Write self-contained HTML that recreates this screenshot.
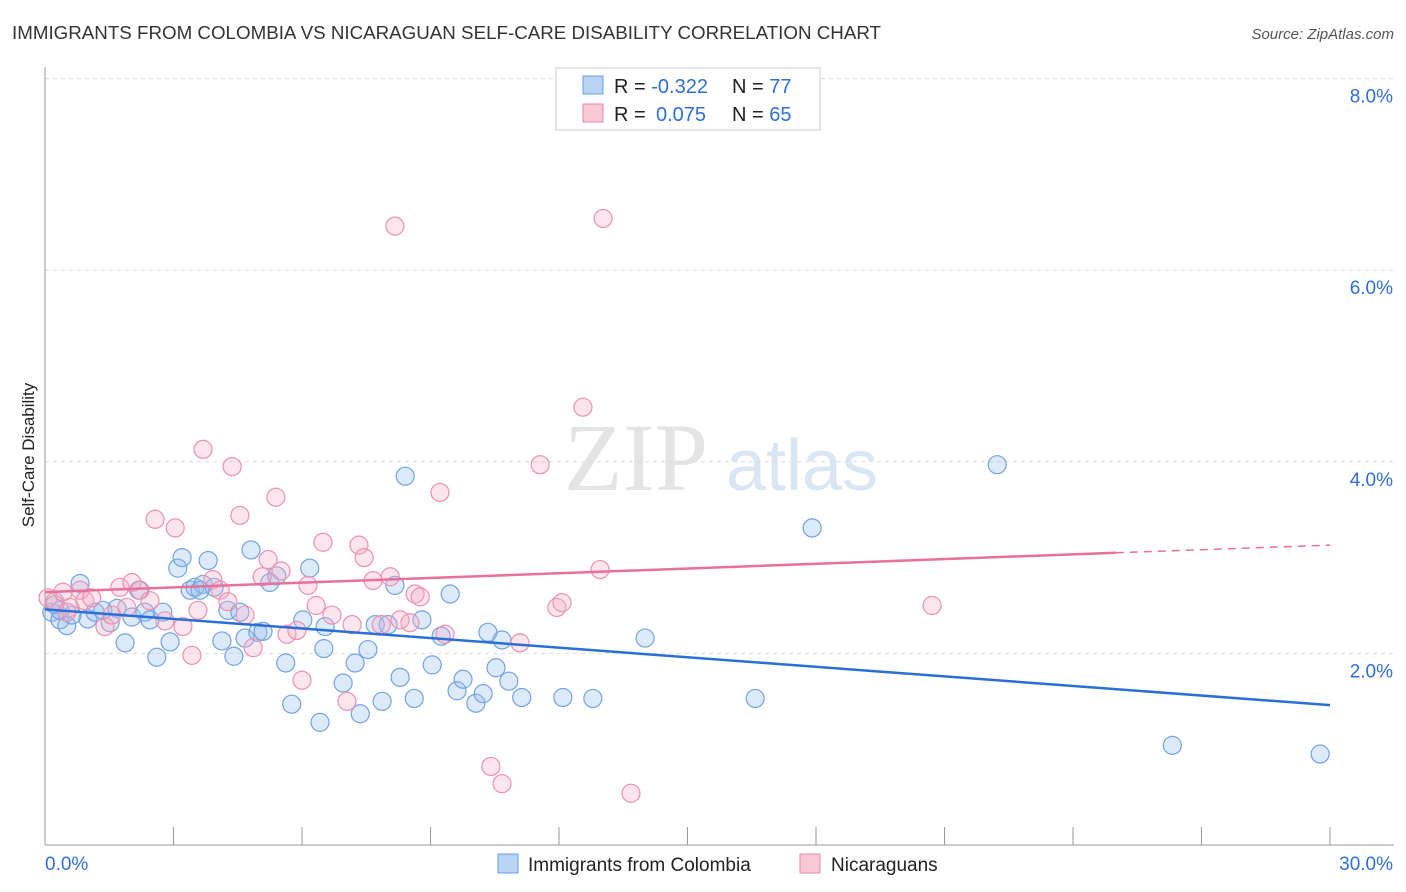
<!DOCTYPE html>
<html><head><meta charset="utf-8"><style>
body{margin:0;background:#fff;font-family:"Liberation Sans",sans-serif}
</style></head><body>
<svg id="c" width="1406" height="892" style="display:block">
<text x="12" y="39" font-size="18" fill="#333" textLength="869" lengthAdjust="spacingAndGlyphs">IMMIGRANTS FROM COLOMBIA VS NICARAGUAN SELF-CARE DISABILITY CORRELATION CHART</text>
<text x="1394" y="39" font-size="15" fill="#555" text-anchor="end" font-style="italic">Source: ZipAtlas.com</text>
<text x="636" y="490" font-size="96" fill="#e4e4e4" font-family="Liberation Serif,serif" text-anchor="middle">ZIP</text>
<text x="802" y="490" font-size="72" fill="#dbe6f5" text-anchor="middle">atlas</text>
<text transform="translate(34,455) rotate(-90)" font-size="17" fill="#222" text-anchor="middle">Self-Care Disability</text>
<g id="grid"></g><g id="pts"></g><g id="lines"></g>
<g>
<rect x="556" y="68" width="264" height="62" fill="#fff" stroke="#ccc"/>
<rect x="583" y="76" width="20" height="18" fill="#b9d3f5" stroke="#6a9ee0"/>
<rect x="583" y="104" width="20" height="18" fill="#f8c7d6" stroke="#e68aa6"/>
<text x="614" y="93" font-size="20" fill="#222">R = <tspan fill="#2f6fd6">-0.322</tspan><tspan x="732">N = </tspan><tspan fill="#2f6fd6">77</tspan></text>
<text x="614" y="121" font-size="20" fill="#222">R = <tspan fill="#2f6fd6" x="656">0.075</tspan><tspan x="732">N = </tspan><tspan fill="#2f6fd6">65</tspan></text>
</g>
<g>
<rect x="498" y="854" width="20" height="19" fill="#b9d3f5" stroke="#6a9ee0"/>
<text x="528" y="871" font-size="19" fill="#222">Immigrants from Colombia</text>
<rect x="800" y="854" width="20" height="19" fill="#f8c7d6" stroke="#e68aa6"/>
<text x="831" y="871" font-size="19" fill="#222">Nicaraguans</text>
</g>
</svg>
<script>
const xTicks=[0,30];
const yTicks=[2,4,6,8];
const blueX=[0.16,0.35,0.51,0.82,1.0,1.17,1.35,1.52,1.68,1.87,2.03,2.19,2.33,2.45,2.61,2.75,2.92,3.1,3.2,3.39,3.5,3.69,3.81,3.95,4.13,4.27,4.41,4.55,4.67,4.81,4.97,5.09,5.25,5.41,5.62,5.76,6.02,6.18,6.42,6.54,6.51,6.96,7.24,7.36,7.54,7.71,7.87,8.01,8.17,8.29,8.41,8.62,8.8,9.04,9.25,9.46,9.62,9.76,10.06,10.23,10.34,10.53,10.67,10.83,11.13,12.09,12.79,14.01,16.58,17.91,22.23,26.32,29.77,0.35,0.23,0.63,3.62];
const blueY=[2.43,2.35,2.29,2.73,2.36,2.43,2.45,2.32,2.47,2.11,2.38,2.66,2.43,2.35,1.96,2.43,2.12,2.89,3.0,2.66,2.69,2.72,2.97,2.69,2.13,2.45,1.97,2.43,2.16,3.08,2.22,2.23,2.74,2.81,1.9,1.47,2.35,2.89,1.28,2.28,2.05,1.69,1.9,1.37,2.04,2.3,1.5,2.3,2.71,1.75,3.85,1.53,2.35,1.88,2.18,2.62,1.61,1.73,1.48,1.58,2.22,1.85,2.14,1.71,1.54,1.54,1.53,2.16,1.53,3.31,3.97,1.04,0.95,2.45,2.51,2.40,2.66];
const pinkX=[0.07,0.23,0.42,0.58,0.82,0.93,1.09,1.4,1.56,1.75,1.91,2.03,2.22,2.45,2.57,2.8,3.04,3.22,3.43,3.57,3.69,3.92,4.09,4.27,4.37,4.55,4.67,4.86,5.07,5.21,5.39,5.51,5.65,5.88,6.0,6.14,6.33,6.49,6.7,7.05,7.17,7.33,7.45,7.66,7.85,8.06,8.17,8.29,8.52,8.64,8.76,9.22,9.34,10.41,10.67,11.09,11.56,11.95,12.07,12.56,12.96,13.03,13.68,20.71,0.51];
const pinkY=[2.58,2.54,2.64,2.48,2.66,2.55,2.58,2.28,2.4,2.69,2.48,2.74,2.66,2.55,3.4,2.34,3.31,2.28,1.98,2.45,4.13,2.77,2.66,2.54,3.95,3.44,2.4,2.06,2.8,2.98,3.63,2.86,2.2,2.24,1.72,2.71,2.5,3.16,2.4,1.5,2.3,3.13,3.0,2.76,2.3,2.8,6.46,2.35,2.32,2.62,2.59,3.68,2.2,0.82,0.64,2.11,3.97,2.48,2.53,4.57,2.875,6.54,0.54,2.5,2.43];
const blueTrend=[0,2.46,30,1.46];
const pinkTrend=[0,2.64,25,3.05,30,3.13];
const NS='http://www.w3.org/2000/svg';
const X=v=>45+v/30*1285, Y=v=>845-v*95.8;
function mk(t,a,p){const e=document.createElementNS(NS,t);for(const k in a)e.setAttribute(k,a[k]);document.getElementById(p).appendChild(e);return e;}
yTicks.forEach(t=>{
 const l=mk('line',{x1:45,x2:1394,y1:Y(t),y2:Y(t),stroke:'#ddd','stroke-dasharray':'4,4'},'grid');
 
 
 const tx=mk('text',{x:1393,y:Y(t)+24,'font-size':19,fill:'#2f6fd6','text-anchor':'end'},'grid');tx.textContent=t.toFixed(1)+'%';
 
 
});
mk('line',{x1:45,x2:45,y1:67,y2:845,stroke:'#999'},'grid');
mk('line',{x1:45,x2:1394,y1:845,y2:845,stroke:'#999'},'grid');
for(let i=1;i<=10;i++){mk('line',{x1:45+i*128.5,x2:45+i*128.5,y1:827,y2:845,stroke:'#999'},'grid');}
xTicks.forEach((t,i)=>{
 const tx=mk('text',{x:i?1393:45,y:870,'font-size':19,fill:'#2f6fd6','text-anchor':i?'end':'start'},'grid');tx.textContent=t.toFixed(1)+'%';
 
 
});
blueX.forEach((v,i)=>{
 const c=mk('circle',{cx:X(v),cy:Y(blueY[i]),r:9,fill:'rgba(150,190,240,0.32)',stroke:'#72a3e2','stroke-width':1.2},'pts');
 
 
});
pinkX.forEach((v,i)=>{
 const c=mk('circle',{cx:X(v),cy:Y(pinkY[i]),r:9,fill:'rgba(245,175,198,0.32)',stroke:'#eb92ae','stroke-width':1.2},'pts');
 
 
});
const bl=mk('line',{x1:X(blueTrend[0]),y1:Y(blueTrend[1]),x2:X(blueTrend[2]),y2:Y(blueTrend[3]),stroke:'#2a6fd8','stroke-width':2.5},'lines');


const pl=mk('line',{x1:X(pinkTrend[0]),y1:Y(pinkTrend[1]),x2:X(pinkTrend[2]),y2:Y(pinkTrend[3]),stroke:'#e8709a','stroke-width':2.5},'lines');


const pd=mk('line',{x1:X(pinkTrend[2]),y1:Y(pinkTrend[3]),x2:X(pinkTrend[4]),y2:Y(pinkTrend[5]),stroke:'#e8709a','stroke-width':1.5,'stroke-dasharray':'8,6'},'lines');


</script>
</body></html>
